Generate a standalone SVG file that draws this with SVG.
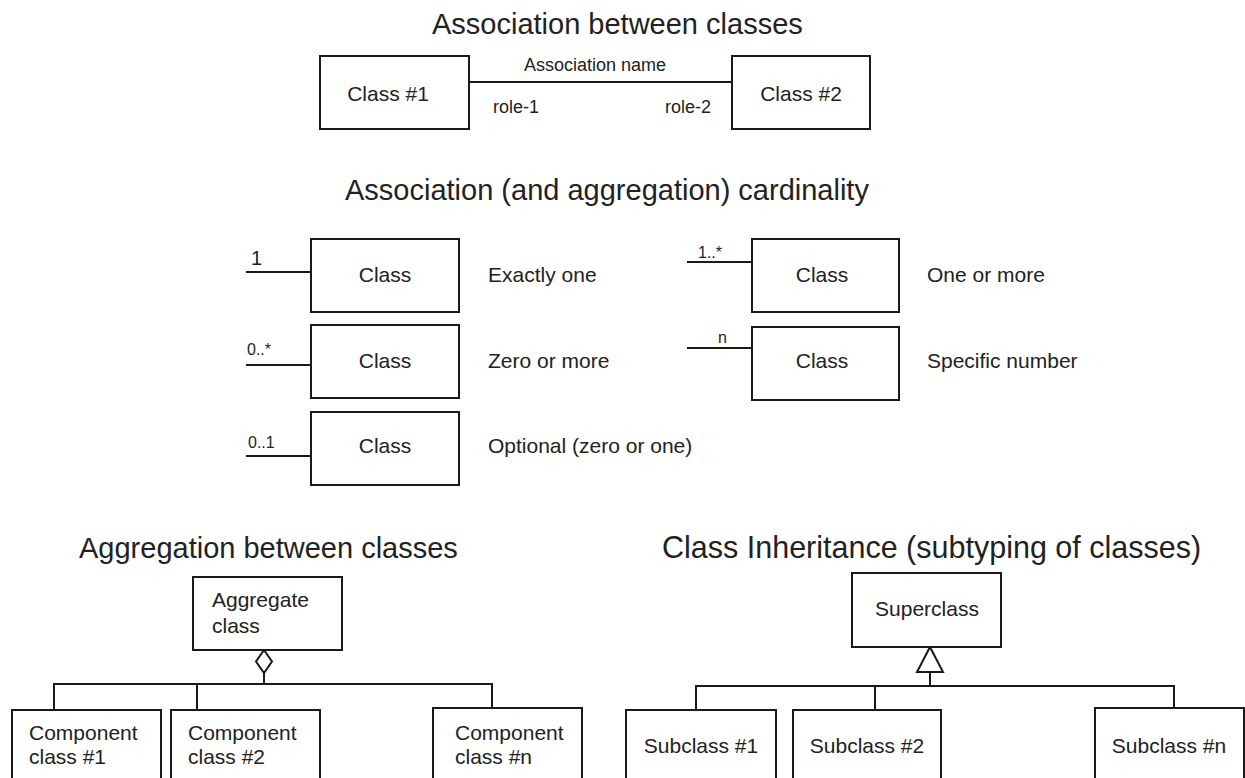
<svg xmlns="http://www.w3.org/2000/svg" width="1245" height="778" viewBox="0 0 1245 778">
  <style>
    .box { fill: #fff; stroke: #1a1a1a; stroke-width: 2; }
    .ln { fill: none; stroke: #1a1a1a; stroke-width: 2; }
    text { font-family: "Liberation Sans", Arial, sans-serif; fill: #222; }
    .title { font-size: 29px; }
    .lbl { font-size: 21px; }
    .mid { text-anchor: middle; }
    .small { font-size: 18px; }
    .card { font-size: 16px; }
  </style>
  <rect width="1245" height="778" fill="#fff"/>

  <!-- Section titles -->
  <text class="title" x="432" y="34">Association between classes</text>
  <text class="title" x="345" y="200">Association (and aggregation) cardinality</text>
  <text class="title" x="79" y="558">Aggregation between classes</text>
  <text class="title" x="662" y="558" style="font-size:30.5px">Class Inheritance (subtyping of classes)</text>

  <!-- Connectors -->
  <g id="connectors">
    <!-- association -->
    <line class="ln" x1="469" y1="82" x2="732" y2="82"/>
    <!-- cardinality stubs -->
    <line class="ln" x1="246" y1="272" x2="311" y2="272"/>
    <line class="ln" x1="246" y1="365" x2="311" y2="365"/>
    <line class="ln" x1="246" y1="456" x2="311" y2="456"/>
    <line class="ln" x1="687" y1="262" x2="752" y2="262"/>
    <line class="ln" x1="687" y1="348" x2="752" y2="348"/>
    <!-- aggregation tree -->
    <polygon class="ln" points="264,650 272,661.5 264,673 256,661.5" fill="#fff"/>
    <line class="ln" x1="264" y1="673" x2="264" y2="684"/>
    <polyline class="ln" points="54,710 54,684 492,684 492,708"/>
    <line class="ln" x1="197" y1="684" x2="197" y2="710"/>
    <!-- inheritance tree -->
    <polygon class="ln" points="930,647 943,672 917,672" fill="#fff"/>
    <line class="ln" x1="930" y1="672" x2="930" y2="686"/>
    <polyline class="ln" points="696,710 696,686 1174,686 1174,708"/>
    <line class="ln" x1="875" y1="686" x2="875" y2="710"/>
  </g>

  <!-- Association between classes -->
  <g id="class1">
    <rect class="box" x="320" y="56" width="149" height="73"/>
    <text class="lbl mid" x="388" y="101">Class #1</text>
  </g>
  <g id="class2">
    <rect class="box" x="732" y="56" width="138" height="73"/>
    <text class="lbl mid" x="801" y="101">Class #2</text>
  </g>
  <text class="small mid" x="595" y="71">Association name</text>
  <text class="small" x="493" y="113">role-1</text>
  <text class="small" x="665" y="113">role-2</text>

  <!-- Cardinality -->
  <g id="card-one">
    <rect class="box" x="311" y="239" width="148" height="73"/>
    <text class="lbl mid" x="385" y="282">Class</text>
    <text class="card" x="251" y="265" style="font-size:20px">1</text>
    <text class="lbl" x="488" y="282">Exactly one</text>
  </g>
  <g id="card-zero-more">
    <rect class="box" x="311" y="325" width="148" height="73"/>
    <text class="lbl mid" x="385" y="368">Class</text>
    <text class="card" x="247" y="355">0..*</text>
    <text class="lbl" x="488" y="368">Zero or more</text>
  </g>
  <g id="card-optional">
    <rect class="box" x="311" y="412" width="148" height="73"/>
    <text class="lbl mid" x="385" y="453">Class</text>
    <text class="card" x="248" y="448">0..1</text>
    <text class="lbl" x="488" y="453">Optional (zero or one)</text>
  </g>
  <g id="card-one-more">
    <rect class="box" x="752" y="239" width="147" height="73"/>
    <text class="lbl mid" x="822" y="282">Class</text>
    <text class="card" x="698" y="258">1..*</text>
    <text class="lbl" x="927" y="282">One or more</text>
  </g>
  <g id="card-specific">
    <rect class="box" x="752" y="327" width="147" height="73"/>
    <text class="lbl mid" x="822" y="368">Class</text>
    <text class="card" x="718" y="343">n</text>
    <text class="lbl" x="927" y="368">Specific number</text>
  </g>

  <!-- Aggregation -->
  <g id="aggregate">
    <rect class="box" x="193" y="577" width="149" height="73"/>
    <text class="lbl" x="212" y="607">Aggregate</text>
    <text class="lbl" x="212" y="633">class</text>
  </g>
  <g id="component1">
    <rect class="box" x="12" y="710" width="149" height="80"/>
    <text class="lbl" x="29" y="740">Component</text>
    <text class="lbl" x="29" y="764">class #1</text>
  </g>
  <g id="component2">
    <rect class="box" x="171" y="710" width="149" height="80"/>
    <text class="lbl" x="188" y="740">Component</text>
    <text class="lbl" x="188" y="764">class #2</text>
  </g>
  <g id="componentn">
    <rect class="box" x="433" y="708" width="149" height="82"/>
    <text class="lbl" x="455" y="740">Component</text>
    <text class="lbl" x="455" y="764">class #n</text>
  </g>

  <!-- Inheritance -->
  <g id="superclass">
    <rect class="box" x="852" y="573" width="149" height="74"/>
    <text class="lbl mid" x="927" y="616">Superclass</text>
  </g>
  <g id="subclass1">
    <rect class="box" x="626" y="710" width="150" height="80"/>
    <text class="lbl mid" x="701" y="753">Subclass #1</text>
  </g>
  <g id="subclass2">
    <rect class="box" x="793" y="710" width="148" height="80"/>
    <text class="lbl mid" x="867" y="753">Subclass #2</text>
  </g>
  <g id="subclassn">
    <rect class="box" x="1095" y="708" width="149" height="82"/>
    <text class="lbl mid" x="1169" y="753">Subclass #n</text>
  </g>
</svg>
